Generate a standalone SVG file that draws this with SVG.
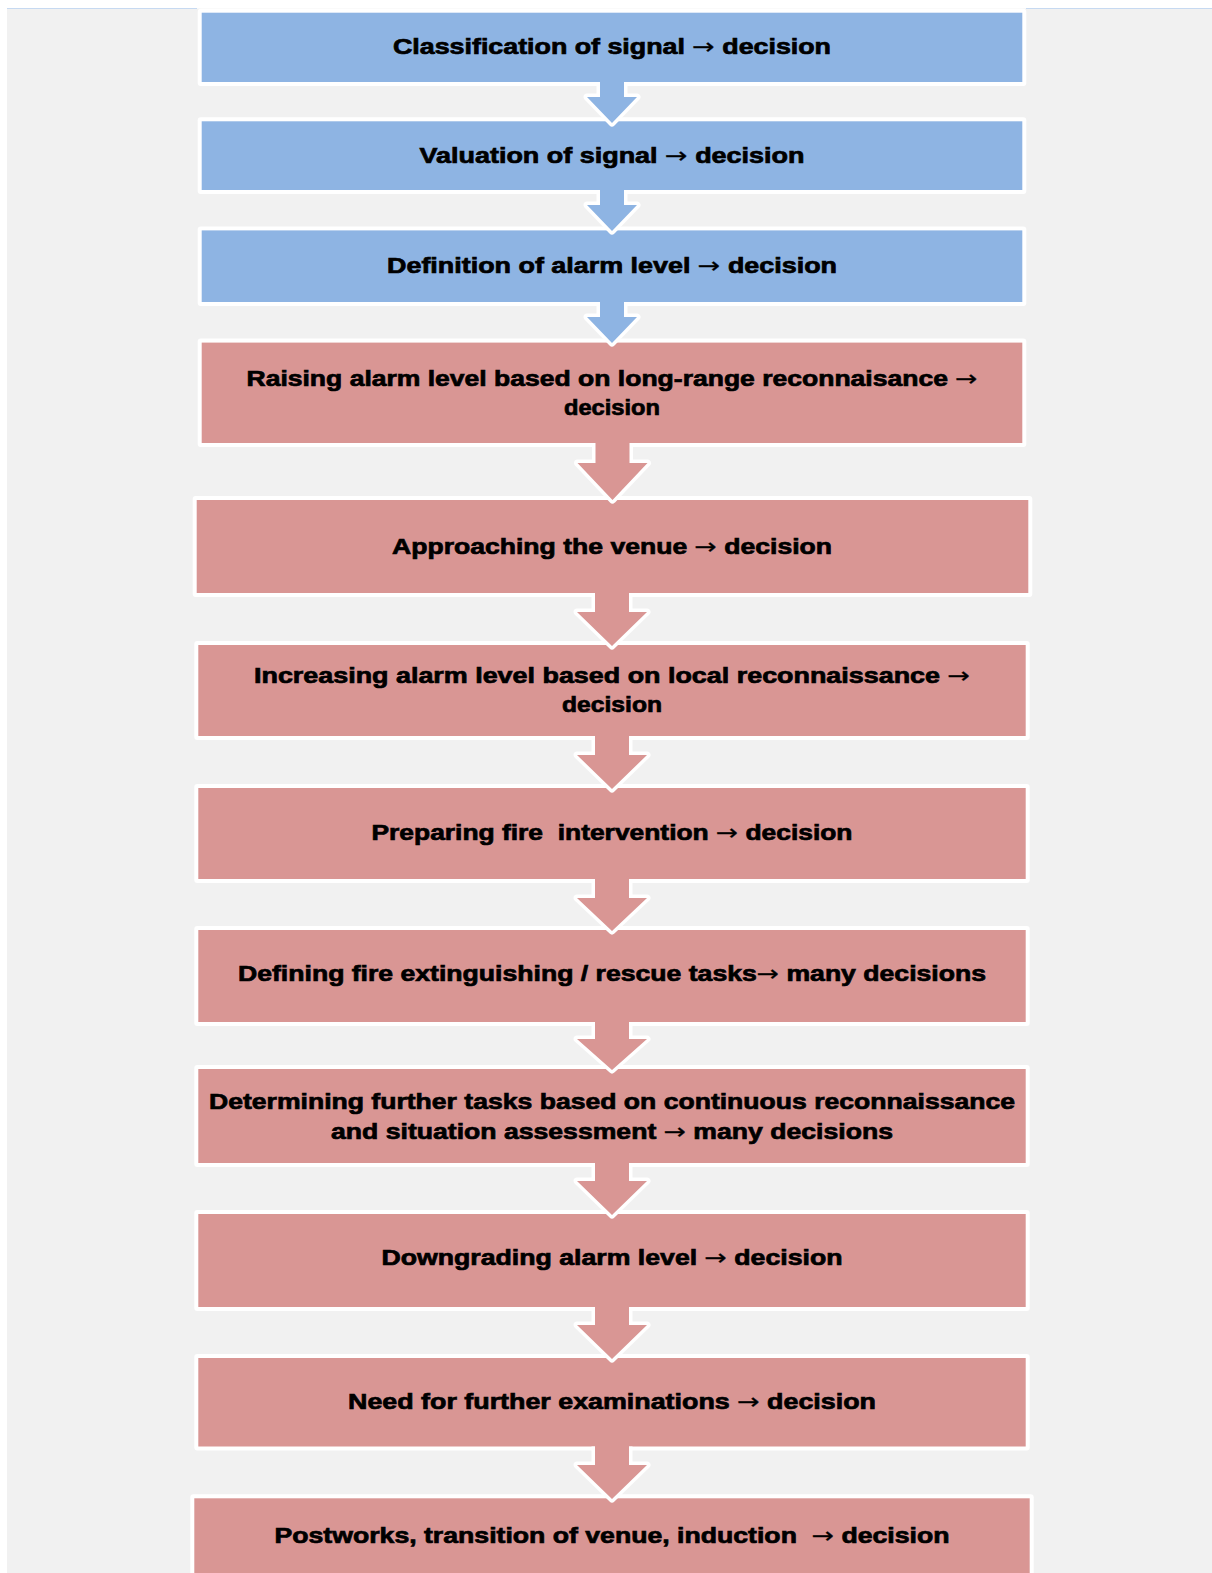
<svg xmlns="http://www.w3.org/2000/svg" width="1212" height="1573" viewBox="0 0 1212 1573">
<style>
.bg{fill:#f1f1f1}
.frame{fill:#ffffff}
.blue{fill:#8eb4e3}
.red{fill:#d99694}
.t{font-family:"Liberation Sans",Arial,sans-serif;font-weight:bold;font-size:22px;fill:#000;stroke:#000;stroke-width:0.7;text-anchor:middle}
.ar{font-family:"DejaVu Sans",sans-serif;font-weight:normal;stroke-width:0.3}
.aout{fill:none;stroke:#ffffff;stroke-width:7;stroke-linejoin:round}
</style>
<rect x="0" y="0" width="1212" height="1573" fill="#ffffff"/>
<rect class="bg" x="7" y="8.5" width="1205" height="1564.5"/>
<line x1="7" y1="8.5" x2="197" y2="8.5" stroke="#c6d9f1" stroke-width="1.2"/>
<line x1="1026" y1="8.5" x2="1212" y2="8.5" stroke="#c6d9f1" stroke-width="1.2"/>

<g id="node1">
<rect class="frame" x="197.7" y="8.7" width="828.6" height="77.3" rx="3"/>
<rect class="blue" x="201.7" y="12.7" width="820.6" height="69.3"/>
<text class="t" x="612" y="54" textLength="438" lengthAdjust="spacingAndGlyphs">Classification of signal <tspan class="ar">→</tspan> decision</text>
</g>
<g id="node2">
<rect class="frame" x="197.7" y="117.3" width="828.6" height="76.7" rx="3"/>
<rect class="blue" x="201.7" y="121.3" width="820.6" height="68.7"/>
<text class="t" x="612" y="162.5" textLength="385" lengthAdjust="spacingAndGlyphs">Valuation of signal <tspan class="ar">→</tspan> decision</text>
</g>
<g id="node3">
<rect class="frame" x="197.7" y="226.4" width="828.6" height="79.6" rx="3"/>
<rect class="blue" x="201.7" y="230.4" width="820.6" height="71.6"/>
<text class="t" x="612" y="273" textLength="450" lengthAdjust="spacingAndGlyphs">Definition of alarm level <tspan class="ar">→</tspan> decision</text>
</g>
<g id="node4">
<rect class="frame" x="197.7" y="338.6" width="828.6" height="108.4" rx="3"/>
<rect class="red" x="201.7" y="342.6" width="820.6" height="100.4"/>
<text class="t" x="612" y="386" textLength="731" lengthAdjust="spacingAndGlyphs">Raising alarm level based on long-range reconnaisance <tspan class="ar">→</tspan></text>
<text class="t" x="612" y="415" textLength="96" lengthAdjust="spacingAndGlyphs">decision</text>
</g>
<g id="node5">
<rect class="frame" x="192.7" y="496" width="839.6" height="101" rx="3"/>
<rect class="red" x="196.7" y="500" width="831.6" height="93"/>
<text class="t" x="612" y="554" textLength="440" lengthAdjust="spacingAndGlyphs">Approaching the venue <tspan class="ar">→</tspan> decision</text>
</g>
<g id="node6">
<rect class="frame" x="194.3" y="641" width="835.4" height="99" rx="3"/>
<rect class="red" x="198.3" y="645" width="827.4" height="91"/>
<text class="t" x="612" y="683" textLength="716" lengthAdjust="spacingAndGlyphs">Increasing alarm level based on local reconnaissance <tspan class="ar">→</tspan></text>
<text class="t" x="612" y="712" textLength="100" lengthAdjust="spacingAndGlyphs">decision</text>
</g>
<g id="node7">
<rect class="frame" x="194.3" y="784" width="835.4" height="99" rx="3"/>
<rect class="red" x="198.3" y="788" width="827.4" height="91"/>
<text class="t" x="612" y="840" textLength="481" lengthAdjust="spacingAndGlyphs" xml:space="preserve">Preparing fire  intervention <tspan class="ar">→</tspan> decision</text>
</g>
<g id="node8">
<rect class="frame" x="194.3" y="926" width="835.4" height="100" rx="3"/>
<rect class="red" x="198.3" y="930" width="827.4" height="92"/>
<text class="t" x="612" y="981" textLength="748" lengthAdjust="spacingAndGlyphs">Defining fire extinguishing / rescue tasks<tspan class="ar">→</tspan> many decisions</text>
</g>
<g id="node9">
<rect class="frame" x="194.3" y="1065" width="835.4" height="102" rx="3"/>
<rect class="red" x="198.3" y="1069" width="827.4" height="94"/>
<text class="t" x="612" y="1108.5" textLength="806" lengthAdjust="spacingAndGlyphs">Determining further tasks based on continuous reconnaissance</text>
<text class="t" x="612" y="1138.5" textLength="562" lengthAdjust="spacingAndGlyphs">and situation assessment <tspan class="ar">→</tspan> many decisions</text>
</g>
<g id="node10">
<rect class="frame" x="194.3" y="1210" width="835.4" height="101" rx="3"/>
<rect class="red" x="198.3" y="1214" width="827.4" height="93"/>
<text class="t" x="612" y="1265" textLength="461" lengthAdjust="spacingAndGlyphs">Downgrading alarm level <tspan class="ar">→</tspan> decision</text>
</g>
<g id="node11">
<rect class="frame" x="194.3" y="1354" width="835.4" height="96.5" rx="3"/>
<rect class="red" x="198.3" y="1358" width="827.4" height="88.5"/>
<text class="t" x="612" y="1408.5" textLength="528" lengthAdjust="spacingAndGlyphs">Need for further examinations <tspan class="ar">→</tspan> decision</text>
</g>
<g id="node12">
<rect class="frame" x="190.3" y="1494.3" width="843.4" height="90" rx="3"/>
<rect class="red" x="194.3" y="1498.3" width="835.4" height="90"/>
<text class="t" x="612" y="1543" textLength="675" lengthAdjust="spacingAndGlyphs" xml:space="preserve">Postworks, transition of venue, induction  <tspan class="ar">→</tspan> decision</text>
</g>

<g id="connectors">
<path class="aout" d="M600,82 V97 H587 L612,123 L637,97 H624 V82"/>
<path class="blue" d="M600,80 V97 H587 L612,123 L637,97 H624 V80 Z"/>
<path class="aout" d="M600,190 V205 H587 L612,231 L637,205 H624 V190"/>
<path class="blue" d="M600,188 V205 H587 L612,231 L637,205 H624 V188 Z"/>
<path class="aout" d="M600,302 V317 H587 L612,343 L637,317 H624 V302"/>
<path class="blue" d="M600,300 V317 H587 L612,343 L637,317 H624 V300 Z"/>
<path class="aout" d="M595.5,443 V463 H577.5 L612.5,500 L647.5,463 H629.5 V443"/>
<path class="red" d="M595.5,441 V463 H577.5 L612.5,500 L647.5,463 H629.5 V441 Z"/>
<path class="aout" d="M595,593 V612 H577 L612,646 L647,612 H629 V593"/>
<path class="red" d="M595,591 V612 H577 L612,646 L647,612 H629 V591 Z"/>
<path class="aout" d="M595,736 V755 H577 L612,789 L647,755 H629 V736"/>
<path class="red" d="M595,734 V755 H577 L612,789 L647,755 H629 V734 Z"/>
<path class="aout" d="M595,879 V898 H577 L612,931 L647,898 H629 V879"/>
<path class="red" d="M595,877 V898 H577 L612,931 L647,898 H629 V877 Z"/>
<path class="aout" d="M595,1022 V1039 H577 L612,1070 L647,1039 H629 V1022"/>
<path class="red" d="M595,1020 V1039 H577 L612,1070 L647,1039 H629 V1020 Z"/>
<path class="aout" d="M595,1163 V1181 H577 L612,1215 L647,1181 H629 V1163"/>
<path class="red" d="M595,1161 V1181 H577 L612,1215 L647,1181 H629 V1161 Z"/>
<path class="aout" d="M595,1307 V1325 H577 L612,1359 L647,1325 H629 V1307"/>
<path class="red" d="M595,1305 V1325 H577 L612,1359 L647,1325 H629 V1305 Z"/>
<path class="aout" d="M595,1446.5 V1465 H577 L612,1499 L647,1465 H629 V1446.5"/>
<path class="red" d="M595,1444.5 V1465 H577 L612,1499 L647,1465 H629 V1444.5 Z"/>
</g>
</svg>
